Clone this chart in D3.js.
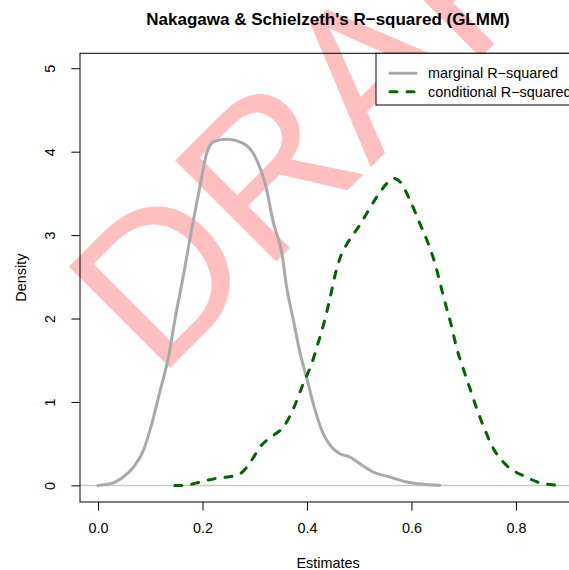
<!DOCTYPE html>
<html>
<head>
<meta charset="utf-8">
<script src="https://cdn.jsdelivr.net/npm/d3@7"></script>
<style>
  html, body { margin: 0; padding: 0; background: #ffffff; }
  svg { display: block; }
  text { font-family: "Liberation Sans", Arial, Helvetica, sans-serif; }
</style>
</head>
<body>
<svg id="chart" width="569" height="570"></svg>
<script>
// ---- data ----
const marginalX = [0.0, 0.029, 0.048, 0.068, 0.087, 0.103, 0.119, 0.135, 0.147, 0.163, 0.179, 0.195, 0.208, 0.221, 0.246, 0.278, 0.304, 0.320, 0.336, 0.352, 0.361, 0.374, 0.387, 0.399, 0.412, 0.431, 0.447, 0.463, 0.482, 0.501, 0.527, 0.559, 0.591, 0.616, 0.654];
const marginalY = [0.0, 0.03, 0.10, 0.22, 0.42, 0.74, 1.14, 1.54, 1.98, 2.50, 3.06, 3.58, 3.98, 4.12, 4.15, 4.10, 3.90, 3.62, 3.14, 2.78, 2.38, 1.98, 1.58, 1.30, 0.98, 0.62, 0.46, 0.38, 0.34, 0.26, 0.16, 0.10, 0.04, 0.016, 0.003];

const conditionalX = [0.147, 0.163, 0.189, 0.208, 0.233, 0.247, 0.272, 0.285, 0.300, 0.310, 0.323, 0.336, 0.355, 0.374, 0.393, 0.409, 0.421, 0.434, 0.444, 0.453, 0.463, 0.479, 0.501, 0.520, 0.536, 0.553, 0.565, 0.578, 0.597, 0.616, 0.632, 0.645, 0.655, 0.664, 0.677, 0.686, 0.699, 0.712, 0.725, 0.741, 0.757, 0.782, 0.820, 0.846, 0.865, 0.881];
const conditionalY = [0.0, 0.0, 0.03, 0.06, 0.09, 0.10, 0.14, 0.22, 0.36, 0.46, 0.54, 0.60, 0.70, 0.92, 1.22, 1.46, 1.70, 1.98, 2.24, 2.50, 2.72, 2.92, 3.12, 3.32, 3.48, 3.62, 3.68, 3.64, 3.42, 3.14, 2.90, 2.66, 2.42, 2.20, 1.90, 1.66, 1.40, 1.16, 0.92, 0.66, 0.44, 0.24, 0.10, 0.03, 0.01, 0.0];

const xTicks = [0.0, 0.2, 0.4, 0.6, 0.8];
const xTickLabels = ["0.0", "0.2", "0.4", "0.6", "0.8"];
const yTicks = [0, 1, 2, 3, 4, 5];
const yTickLabels = ["0", "1", "2", "3", "4", "5"];

const seriesNames = ["marginal R\u2212squared", "conditional R\u2212squared"];
const titleText = "Nakagawa & Schielzeth's R\u2212squared (GLMM)";
const xLabel = "Estimates";
const yLabel = "Density";
const watermark = "DRAFT";

// ---- layout ----
const svg = d3.select("#chart");
const plot = { left: 80, right: 576, top: 53.3, bottom: 502 };

const x = d3.scaleLinear().domain([-0.0345, 0.915]).range([plot.left, plot.right]);
const y = d3.scaleLinear().domain([-0.1992, 5.1792]).range([plot.bottom, plot.top]);

svg.append("rect").attr("width", 569).attr("height", 570).attr("fill", "#ffffff");

// watermark (drawn underneath)
const wmX = 158, wmY = 380;
svg.append("text")
  .attr("x", wmX).attr("y", wmY)
  .attr("transform", `rotate(-45, ${wmX}, ${wmY})`)
  .attr("font-size", 208)
  .attr("fill", "rgba(255,0,0,0.25)")
  .text(watermark);

// title
svg.append("text")
  .attr("x", (plot.left + plot.right) / 2).attr("y", 25)
  .attr("text-anchor", "middle")
  .attr("font-weight", "bold")
  .attr("font-size", 17)
  .attr("fill", "#000")
  .text(titleText);

// zero line
svg.append("line")
  .attr("x1", plot.left).attr("x2", plot.right)
  .attr("y1", y(0)).attr("y2", y(0))
  .attr("stroke", "#c8c8c8").attr("stroke-width", 1.5);

// axes
const xAxis = d3.axisBottom(x).tickValues(xTicks)
  .tickFormat((d, i) => xTickLabels[i]).tickSize(8.6).tickSizeOuter(0);
const gx = svg.append("g").attr("transform", `translate(0,${plot.bottom})`).call(xAxis);
gx.select(".domain").remove();
gx.selectAll(".tick line").attr("stroke", "#000").attr("stroke-width", 1);
gx.selectAll(".tick text").attr("font-size", 14.4).attr("fill", "#000")
  .attr("font-family", "'Liberation Sans', Arial, sans-serif")
  .attr("dy", null).attr("y", 31);

const yAxis = d3.axisLeft(y).tickValues(yTicks)
  .tickFormat((d, i) => yTickLabels[i]).tickSize(8.6).tickSizeOuter(0);
const gy = svg.append("g").attr("transform", `translate(${plot.left},0)`).call(yAxis);
gy.select(".domain").remove();
gy.selectAll(".tick line").attr("stroke", "#000").attr("stroke-width", 1);
gy.selectAll(".tick text")
  .attr("font-size", 14.4).attr("fill", "#000")
  .attr("font-family", "'Liberation Sans', Arial, sans-serif")
  .attr("x", null).attr("dy", null)
  .attr("text-anchor", "middle")
  .attr("transform", "translate(-25,0) rotate(-90)");

// box
svg.append("rect")
  .attr("x", plot.left).attr("y", plot.top)
  .attr("width", plot.right - plot.left).attr("height", plot.bottom - plot.top)
  .attr("fill", "none").attr("stroke", "#000").attr("stroke-width", 1);

// axis titles
svg.append("text")
  .attr("x", (plot.left + plot.right) / 2).attr("y", 568)
  .attr("text-anchor", "middle").attr("font-size", 14.4).attr("fill", "#000")
  .text(xLabel);
svg.append("text")
  .attr("transform", `translate(25.5, ${(plot.top + plot.bottom) / 2}) rotate(-90)`)
  .attr("text-anchor", "middle").attr("font-size", 14.4).attr("fill", "#000")
  .text(yLabel);

// curves
const line = d3.line().x(d => x(d[0])).y(d => y(d[1])).curve(d3.curveMonotoneX);
const marginal = marginalX.map((v, i) => [v, marginalY[i]]);
const conditional = conditionalX.map((v, i) => [v, conditionalY[i]]);

svg.append("path").datum(marginal)
  .attr("d", line).attr("fill", "none")
  .attr("stroke", "#a9a9a9").attr("stroke-width", 3)
  .attr("stroke-linejoin", "round").attr("stroke-linecap", "round");

svg.append("path").datum(conditional)
  .attr("d", line).attr("fill", "none")
  .attr("stroke", "#006400").attr("stroke-width", 3)
  .attr("stroke-dasharray", "7,10")
  .attr("stroke-linecap", "round");

// legend
const lg = svg.append("g");
lg.append("rect")
  .attr("x", 376).attr("y", plot.top)
  .attr("width", plot.right - 376).attr("height", 105 - plot.top)
  .attr("fill", "#ffffff").attr("stroke", "#000").attr("stroke-width", 1);
const legendRows = [
  { name: seriesNames[0], color: "#a9a9a9", dash: null, yy: 73.3 },
  { name: seriesNames[1], color: "#006400", dash: "7,10", yy: 91.7 }
];
legendRows.forEach(r => {
  const l = lg.append("line")
    .attr("x1", 390).attr("x2", 416).attr("y1", r.yy).attr("y2", r.yy)
    .attr("stroke", r.color).attr("stroke-width", 3).attr("stroke-linecap", "round");
  if (r.dash) l.attr("stroke-dasharray", r.dash);
  lg.append("text")
    .attr("x", 428).attr("y", r.yy + 5)
    .attr("font-size", 14.4).attr("fill", "#000")
    .text(r.name);
});
</script>
</body>
</html>
